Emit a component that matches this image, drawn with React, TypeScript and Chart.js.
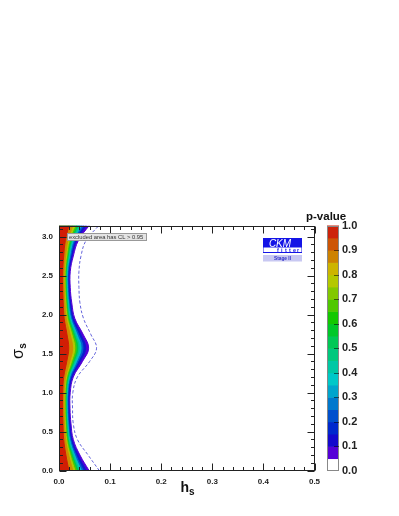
import React, { useEffect, useRef } from 'react';
import { Chart, registerables } from 'chart.js';

Chart.register(...registerables);

// sigma_s samples (y) and h_s contour boundaries (x)
const sigmaS = [0, 0.2, 0.4, 0.6, 0.8, 1.0, 1.2, 1.4, 1.57, 1.75, 1.95, 2.15, 2.35, 2.55, 2.75, 2.95, 3.1416];
const hsP05 = [0.059, 0.041, 0.028, 0.0235, 0.0215, 0.022, 0.028, 0.046, 0.058, 0.047, 0.031, 0.025, 0.022, 0.022, 0.028, 0.038, 0.059];
const hsP10 = [0.0531, 0.0369, 0.0252, 0.0212, 0.0194, 0.0198, 0.0252, 0.0414, 0.0522, 0.0423, 0.0279, 0.0225, 0.0198, 0.0198, 0.0252, 0.0342, 0.0531];
const hsP20 = [0.0478, 0.0332, 0.0227, 0.019, 0.0174, 0.0178, 0.0227, 0.0373, 0.047, 0.0381, 0.0251, 0.0203, 0.0178, 0.0178, 0.0227, 0.0308, 0.0478];
const hsP30 = [0.044, 0.0305, 0.0209, 0.0175, 0.016, 0.0164, 0.0209, 0.0343, 0.0432, 0.035, 0.0231, 0.0186, 0.0164, 0.0164, 0.0209, 0.0283, 0.044];
const hsP40 = [0.0404, 0.0281, 0.0192, 0.0161, 0.0147, 0.0151, 0.0192, 0.0315, 0.0397, 0.0322, 0.0212, 0.0171, 0.0151, 0.0151, 0.0192, 0.026, 0.0404];
const hsP50 = [0.0375, 0.026, 0.0178, 0.0149, 0.0137, 0.014, 0.0178, 0.0292, 0.0368, 0.0298, 0.0197, 0.0159, 0.014, 0.014, 0.0178, 0.0241, 0.0375];
const hsP60 = [0.0342, 0.0238, 0.0162, 0.0136, 0.0125, 0.0128, 0.0162, 0.0267, 0.0336, 0.0273, 0.018, 0.0145, 0.0128, 0.0128, 0.0162, 0.022, 0.0342];
const hsP70 = [0.0313, 0.0217, 0.0148, 0.0125, 0.0114, 0.0117, 0.0148, 0.0244, 0.0307, 0.0249, 0.0164, 0.0133, 0.0117, 0.0117, 0.0148, 0.0201, 0.0313];
const hsP80 = [0.0271, 0.0189, 0.0129, 0.0108, 0.0099, 0.0101, 0.0129, 0.0212, 0.0267, 0.0216, 0.0143, 0.0115, 0.0101, 0.0101, 0.0129, 0.0175, 0.0271];
const hsP90 = [0.0195, 0.0135, 0.0092, 0.0078, 0.0071, 0.0073, 0.0092, 0.0152, 0.0191, 0.0155, 0.0102, 0.0083, 0.0073, 0.0073, 0.0092, 0.0125, 0.0195];
const hsDashed = [0.079, 0.057, 0.036, 0.028, 0.0265, 0.027, 0.036, 0.06, 0.0735, 0.062, 0.048, 0.041, 0.039, 0.039, 0.043, 0.053, 0.078];

const levelLabels = ['0.9', '0.8', '0.7', '0.6', '0.5', '0.4', '0.3', '0.2', '0.1', '0.05'];
const levelArrays = [hsP90, hsP80, hsP70, hsP60, hsP50, hsP40, hsP30, hsP20, hsP10, hsP05];
const levelColors = ['#d21e05', '#d08c00', '#b4c800', '#50c800', '#00c846', '#00c88c', '#00bec8', '#0064cd', '#0a1ecd', '#5000d7'];

// colour bar (p-value palette)
const paletteLow = [0, 0.05, 0.1, 0.15, 0.2, 0.25, 0.3, 0.35, 0.4, 0.45, 0.5, 0.55, 0.6, 0.65, 0.7, 0.75, 0.8, 0.85, 0.9, 0.95];
const paletteColors = ['#ffffff', '#5500d7', '#1408cd', '#0028cd', '#0050cd', '#0078cd', '#00a5cd', '#00c8c8', '#00c8a5', '#00c87d', '#00c855', '#00c828', '#14c800', '#50c800', '#82c800', '#b4c800', '#cdb400', '#cd8200', '#cd5505', '#cd230a'];

const hsTicks = [0, 0.1, 0.2, 0.3, 0.4, 0.5];
const sigmaTicks = [0, 0.5, 1.0, 1.5, 2.0, 2.5, 3.0];
const pTicks = [0, 0.1, 0.2, 0.3, 0.4, 0.5, 0.6, 0.7, 0.8, 0.9, 1.0];

const FONT = '"Liberation Sans", Arial, Helvetica, sans-serif';

const decor = {
  id: 'decor',
  afterDraw(chart: any) {
    const { ctx, chartArea: a } = chart;
    const xs = chart.scales.x;
    const ys = chart.scales.y;
    const pv = chart.scales.pv;
    ctx.save();
    const line = (x1: number, y1: number, x2: number, y2: number) => {
      ctx.beginPath();
      ctx.moveTo(x1, y1);
      ctx.lineTo(x2, y2);
      ctx.stroke();
    };
    // frame
    const L = Math.round(a.left) + 0.5;
    const R = Math.round(a.right) - 0.5;
    const T = Math.round(a.top) + 0.5;
    const B = Math.round(a.bottom) - 0.5;
    ctx.strokeStyle = '#222';
    ctx.lineWidth = 1;
    ctx.strokeRect(L, T, R - L, B - T);
    // x ticks (inside, top & bottom)
    for (let i = 0; i <= 25; i++) {
      const px = Math.round(xs.getPixelForValue(i * 0.02)) + 0.5;
      const len = i % 5 === 0 ? 7 : 3.5;
      line(px, B, px, B - len);
      line(px, T, px, T + len);
    }
    // y ticks (inside, left & right)
    for (let i = 0; i <= 31; i++) {
      const py = Math.round(ys.getPixelForValue(i * 0.1)) + 0.5;
      const len = i % 5 === 0 ? 7 : 3.5;
      line(L, py, L + len, py);
      line(R, py, R - len, py);
    }

    // colour bar
    const cx = Math.round(pv.left + 12.5);
    const cw = 12;
    paletteLow.forEach((lo, k) => {
      const y1 = pv.getPixelForValue(lo);
      const y2 = pv.getPixelForValue(lo + 0.05);
      ctx.fillStyle = paletteColors[k];
      ctx.fillRect(cx, y2, cw, y1 - y2 + 0.6);
    });
    ctx.strokeStyle = '#888';
    ctx.strokeRect(cx + 0.5, Math.round(pv.top) + 0.5, cw - 1, Math.round(pv.bottom - pv.top) - 1);
    ctx.strokeStyle = 'rgba(0,0,0,0.55)';
    pTicks.slice(1, -1).forEach((v) => {
      const py = Math.round(pv.getPixelForValue(v)) + 0.5;
      line(cx + cw - 5, py, cx + cw, py);
    });

    // axis titles
    ctx.fillStyle = '#111';
    ctx.textAlign = 'left';
    ctx.textBaseline = 'alphabetic';
    ctx.font = `bold 14px ${FONT}`;
    ctx.fillText('h', 180.5, 492);
    const hw = ctx.measureText('h').width;
    ctx.font = `bold 10px ${FONT}`;
    ctx.fillText('s', 180.5 + hw, 495);

    ctx.save();
    ctx.translate(23, 359);
    ctx.rotate(-Math.PI / 2);
    ctx.font = `16px ${FONT}`;
    ctx.fillText('σ', 0, 0);
    const sw = ctx.measureText('σ').width;
    ctx.font = `bold 10px ${FONT}`;
    ctx.fillText('s', sw + 0.5, 3);
    ctx.restore();

    ctx.font = `bold 11.5px ${FONT}`;
    ctx.fillText('p-value', 306, 220);

    // excluded-area note
    ctx.fillStyle = '#e4e4e4';
    ctx.fillRect(67, 233, 80, 8);
    ctx.strokeStyle = '#999';
    ctx.strokeRect(67.5, 233.5, 79, 7);
    ctx.fillStyle = '#333';
    ctx.font = `5.8px ${FONT}`;
    ctx.textBaseline = 'middle';
    ctx.fillText('excluded area has CL > 0.95', 69, 237.3);

    // CKMfitter logo
    ctx.fillStyle = '#1414e6';
    ctx.fillRect(263, 238, 39, 15);
    ctx.fillStyle = '#ffffff';
    ctx.fillRect(263.5, 247.5, 38, 4.5);
    ctx.font = `italic 10px ${FONT}`;
    ctx.textAlign = 'center';
    ctx.textBaseline = 'alphabetic';
    ctx.fillText('CKM', 280, 246.8);
    ctx.fillStyle = '#1414e6';
    ctx.font = `bold 5.5px ${FONT}`;
    ctx.textAlign = 'left';
    const letters = 'fitter'.split('');
    letters.forEach((ch, i) => ctx.fillText(ch, 277 + i * 4, 251.8));
    ctx.fillStyle = '#c8c8f2';
    ctx.fillRect(263, 255, 39, 6.5);
    ctx.fillStyle = '#3232c8';
    ctx.font = `bold 4.8px ${FONT}`;
    ctx.textAlign = 'center';
    ctx.textBaseline = 'middle';
    ctx.fillText('Stage II', 282.5, 258.4);

    ctx.restore();
  },
};

export default function App() {
  const ref = useRef<HTMLCanvasElement | null>(null);

  useEffect(() => {
    if (!ref.current) return;
    const datasets: any[] = [
      {
        label: 'dashed',
        data: sigmaS.map((s, i) => ({ x: hsDashed[i], y: s })),
        borderColor: '#6464dc',
        borderWidth: 1,
        borderDash: [3, 2],
        fill: false,
        pointRadius: 0,
        tension: 0.4,
      },
      ...levelArrays.map((arr, k) => ({
        label: 'p=' + levelLabels[k],
        data: sigmaS.map((s, i) => ({ x: arr[i], y: s })),
        borderColor: levelColors[k],
        backgroundColor: levelColors[k],
        borderWidth: 1,
        fill: 'origin',
        pointRadius: 0,
        tension: 0.4,
      })),
    ];

    const tickFont = { family: FONT, size: 8, weight: 'bold' as const };
    const chart = new Chart(ref.current, {
      type: 'line',
      data: { datasets },
      plugins: [decor],
      options: {
        indexAxis: 'y',
        animation: false,
        responsive: false,
        devicePixelRatio: 1,
        events: [],
        layout: { padding: { top: 225.5, left: 0, right: 0, bottom: 0 } },
        plugins: { legend: { display: false }, tooltip: { enabled: false } },
        scales: {
          x: {
            type: 'linear',
            position: 'bottom',
            min: 0,
            max: 0.5,
            grid: { display: false, drawTicks: false },
            border: { display: false },
            ticks: {
              padding: 6,
              font: tickFont,
              color: '#222',
              maxRotation: 0,
              autoSkip: false,
              callback: (v: any) => Number(v).toFixed(1),
            },
            afterBuildTicks: (s: any) => {
              s.ticks = hsTicks.map((v) => ({ value: v }));
            },
            afterFit: (s: any) => {
              s.height = 45.3;
            },
          },
          y: {
            type: 'linear',
            position: 'left',
            min: 0,
            max: Math.PI,
            grid: { display: false, drawTicks: false },
            border: { display: false },
            ticks: {
              padding: 6,
              font: tickFont,
              color: '#222',
              autoSkip: false,
              callback: (v: any) => Number(v).toFixed(1),
            },
            afterBuildTicks: (s: any) => {
              s.ticks = sigmaTicks.map((v) => ({ value: v }));
            },
            afterFit: (s: any) => {
              s.width = 59;
            },
          },
          pv: {
            type: 'linear',
            axis: 'y',
            position: 'right',
            min: 0,
            max: 1,
            grid: { display: false, drawTicks: false },
            border: { display: false },
            ticks: {
              padding: 27.5,
              font: { family: FONT, size: 11, weight: 'bold' },
              color: '#222',
              autoSkip: false,
              callback: (v: any) => Number(v).toFixed(1),
            },
            afterBuildTicks: (s: any) => {
              s.ticks = pTicks.map((v) => ({ value: v }));
            },
            afterFit: (s: any) => {
              s.width = 84.5;
            },
          },
        },
      } as any,
    });
    return () => chart.destroy();
  }, []);

  return (
    <div style={{ position: 'absolute', left: 0, top: 0, width: 399, height: 516, background: '#fff' }}>
      <canvas ref={ref} width={399} height={516} style={{ display: 'block', width: 399, height: 516 }} />
    </div>
  );
}
